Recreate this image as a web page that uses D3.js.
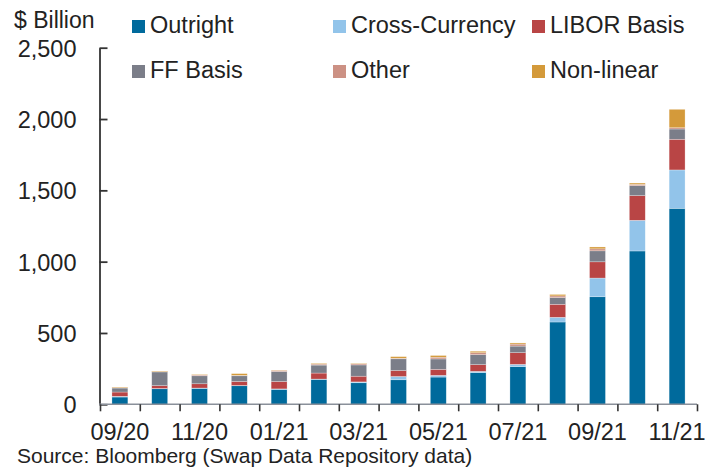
<!DOCTYPE html>
<html>
<head>
<meta charset="utf-8">
<script src="https://cdn.jsdelivr.net/npm/d3@7"></script>
<style>
  body { margin: 0; background: #fff; }
  svg { font-family: "Liberation Sans", Arial, sans-serif; }
</style>
</head>
<body>
<div id="chart"></div>
<script>
//Width and height
var w = 706;
var h = 467;

//Data
var months = ["09/20","10/20","11/20","12/20","01/21","02/21","03/21","04/21",
              "05/21","06/21","07/21","08/21","09/21","10/21","11/21"];
var tickLabels = ["09/20","11/20","01/21","03/21","05/21","07/21","09/21","11/21"];
var seriesNames = ["Outright","Cross-Currency","LIBOR Basis","FF Basis","Other","Non-linear"];
var seriesColors = ["#006a9c","#92c4ea","#b94545","#7b7e89","#cc9184","#d49a3a"];

var outright      = [51, 109, 112, 130, 105, 175, 151, 172, 191, 222, 264, 577, 754, 1075, 1374];
var crossCurrency = [5, 2, 2, 2, 3, 2, 6, 23, 12, 9, 16, 33, 131, 215, 269];
var liborBasis    = [30, 20, 30, 28, 52, 42, 40, 42, 42, 47, 82, 91, 114, 173, 215];
var ffBasis       = [28, 96, 56, 40, 70, 56, 79, 82, 73, 70, 46, 47, 77, 70, 72];
var other         = [3, 2, 6, 3, 8, 7, 8, 4, 12, 14, 14, 12, 14, 9, 9];
var nonLinear     = [4, 4, 4, 12, 2, 5, 4, 11, 12, 10, 8, 10, 13, 9, 129];

var yTicks = [0, 500, 1000, 1500, 2000, 2500];

//Build table for the stack
var seriesValues = [outright, crossCurrency, liborBasis, ffBasis, other, nonLinear];
var table = months.map(function(m, i) {
  var row = {month: m};
  seriesNames.forEach(function(s, j) { row[s] = seriesValues[j][i]; });
  return row;
});
var stacked = d3.stack().keys(seriesNames)(table);

//Scales
var x = d3.scaleBand()
  .domain(months)
  .range([100, 697])
  .paddingInner(0.6)
  .paddingOuter(0.3);

var xEdge = d3.scaleLinear()
  .domain([0, months.length])
  .range([100, 697]);

var y = d3.scaleLinear()
  .domain([0, 2500])
  .range([404.3, 47.7]);

var color = d3.scaleOrdinal()
  .domain(seriesNames)
  .range(seriesColors);

//Create svg
var svg = d3.select("#chart")
  .append("svg")
  .attr("width", w)
  .attr("height", h);

//Bars
svg.append("g")
  .selectAll("g")
  .data(stacked)
  .enter()
  .append("g")
  .attr("fill", function(d) { return color(d.key); })
  .selectAll("rect")
  .data(function(d) { return d; })
  .enter()
  .append("rect")
  .attr("x", function(d) { return x(d.data.month); })
  .attr("y", function(d) { return y(d[1]); })
  .attr("width", x.bandwidth())
  .attr("height", function(d) { return y(d[0]) - y(d[1]); })
  .attr("stroke", "rgba(255,255,255,0.45)")
  .attr("stroke-width", 0.6);

//Y axis (ticks pointing inward)
var yAxis = d3.axisLeft(y)
  .tickValues(yTicks)
  .tickFormat(d3.format(","))
  .tickSize(-8)
  .tickSizeOuter(0)
  .tickPadding(23);

var yg = svg.append("g")
  .attr("transform", "translate(99.5,0)")
  .call(yAxis);
yg.select(".domain").attr("stroke", "#333").attr("stroke-width", 1.8);
yg.selectAll(".tick line").attr("stroke", "#333").attr("stroke-width", 1.8);
yg.selectAll("text")
  .attr("fill", "#222")
  .style("font-size", "23.5px")
  .attr("dy", "0.36em");

//X axis: tick marks between months
var xTickAxis = d3.axisBottom(xEdge)
  .tickValues(d3.range(months.length + 1))
  .tickFormat("")
  .tickSize(7)
  .tickSizeOuter(0);

var xg = svg.append("g")
  .attr("transform", "translate(0,404.3)")
  .call(xTickAxis);
xg.select(".domain").attr("stroke", "#8a909a").attr("stroke-width", 1.6)
  .attr("d", "M99,0H697");
xg.selectAll(".tick line").attr("stroke", "#333").attr("stroke-width", 1.6);

//X axis labels, every other month
var xLabelAxis = d3.axisBottom(x)
  .tickValues(tickLabels)
  .tickSize(0)
  .tickPadding(0);

var xl = svg.append("g")
  .attr("transform", "translate(0,440)")
  .call(xLabelAxis);
xl.select(".domain").remove();
xl.selectAll("text")
  .attr("fill", "#222")
  .attr("dy", 0)
  .style("font-size", "23.5px");

//Unit label
svg.append("text")
  .attr("x", 14)
  .attr("y", 28)
  .attr("fill", "#222")
  .style("font-size", "23px")
  .text("$ Billion");

//Legend
var legendX = [132, 333, 532];
var legendY = [20, 65];
var legend = svg.append("g")
  .selectAll("g")
  .data(seriesNames)
  .enter()
  .append("g")
  .attr("transform", function(d, i) {
    return "translate(" + legendX[i % 3] + "," + legendY[Math.floor(i / 3)] + ")";
  });

legend.append("rect")
  .attr("width", 13)
  .attr("height", 13)
  .attr("fill", function(d) { return color(d); });

legend.append("text")
  .attr("x", 18)
  .attr("y", 13)
  .attr("fill", "#222")
  .style("font-size", "23.5px")
  .text(function(d) { return d; });

//Source
svg.append("text")
  .attr("x", 17)
  .attr("y", 463)
  .attr("fill", "#222")
  .style("font-size", "21px")
  .text("Source: Bloomberg (Swap Data Repository data)");
</script>
</body>
</html>
